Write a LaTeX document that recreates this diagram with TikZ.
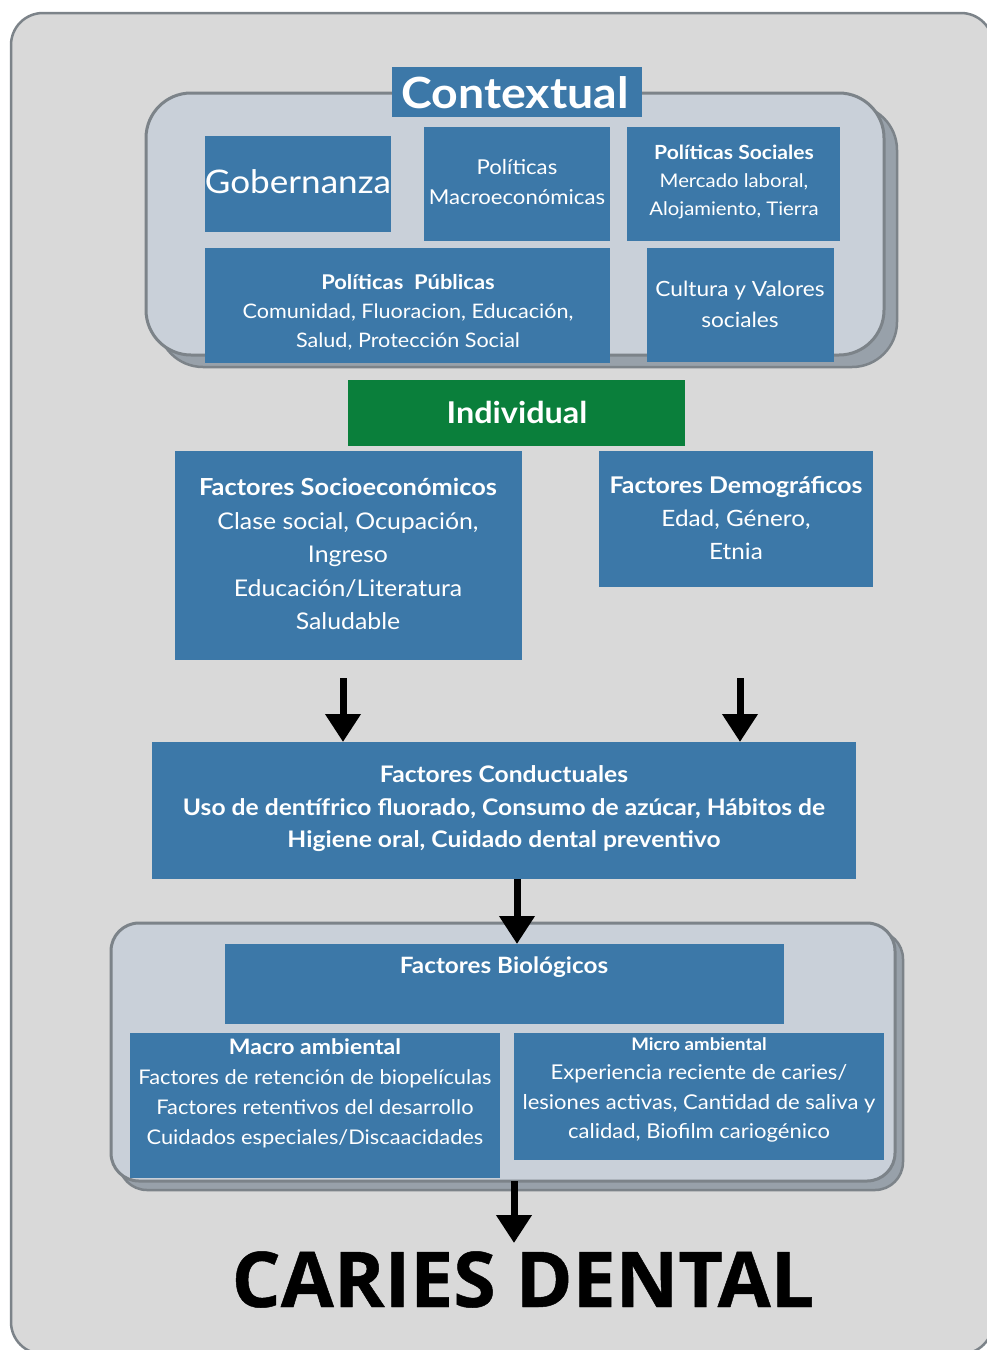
\documentclass[tikz,border=0pt]{standalone}
\usepackage{fontspec}
\setmainfont{Lato}[FakeStretch=1.08]
\newfontfamily\cariesfont{Open Sans}[FakeBold=0.6]
\usetikzlibrary{arrows.meta}
\definecolor{bg}{HTML}{D9D9D9}
\definecolor{framec}{HTML}{7C8389}
\definecolor{cont}{HTML}{C9D0D9}
\definecolor{shad}{HTML}{98A1AA}
\definecolor{blu}{HTML}{3C78A8}
\definecolor{grn}{HTML}{0A7F3B}
\begin{document}
\begin{tikzpicture}[x=1pt,y=-1pt,
  blubox/.style={fill=blu, draw=none, inner sep=0pt, outer sep=0pt, anchor=north west},
  grnbox/.style={fill=grn, draw=none, inner sep=0pt, outer sep=0pt, anchor=north west},
  txt/.style={text=white, align=center, inner sep=0pt},
  grp/.style={fill=cont, draw=framec, line width=3pt, inner sep=0pt, outer sep=0pt, anchor=north west},
  grpshadow/.style={fill=shad, draw=framec, line width=2.5pt, inner sep=0pt, outer sep=0pt, anchor=north west},
  bigarrow/.style={line width=7pt, -{Triangle[width=34pt,length=28pt]}},
]
\useasboundingbox (0,0) rectangle (987,1350);
\fill[white] (0,0) rectangle (987,1350);
\begin{scope}
\clip (0,0) rectangle (987,1350);
\draw[fill=bg, draw=framec, line width=2.5pt, rounded corners=32pt] (11,13) rectangle (993,1354);
\end{scope}

% Contextual group
\node[grpshadow, rounded corners=45pt, minimum width=739, minimum height=262] (ctxs) at (158,105) {};
\node[grp, rounded corners=45pt, minimum width=738, minimum height=262] (ctx) at (146,93) {};

\node[blubox, minimum width=250, minimum height=50] (title) at (392,67) {};
\node[txt, font=\fontsize{43}{48}\selectfont\bfseries] at (515,93) {Contextual};

\node[blubox, minimum width=186, minimum height=96] (gob) at (205,136) {};
\node[txt, font=\fontsize{32.5}{38}\selectfont] at (298,182) {Gobernanza};

\node[blubox, minimum width=186, minimum height=114] (macro) at (424,127) {};
\node[txt, font=\fontsize{20.5}{30}\selectfont] at (517,182) {Políticas\\Macroeconómicas};

\node[blubox, minimum width=213, minimum height=114] (soc) at (627,127) {};
\node[txt, font=\fontsize{18.8}{28}\selectfont] at (734,182) {{\fontsize{19.5}{28}\selectfont\bfseries Políticas Sociales}\\Mercado laboral,\\Alojamiento, Tierra};

\node[blubox, minimum width=405, minimum height=115] (pub) at (205,248) {};
\node[txt, font=\fontsize{20}{29}\selectfont] at (408,312) {{\fontsize{20.3}{29}\selectfont\bfseries Políticas\ \ Públicas}\\Comunidad, Fluoracion, Educación,\\Salud, Protección Social};

\node[blubox, minimum width=187, minimum height=114] (cult) at (647,248) {};
\node[txt, font=\fontsize{21}{31}\selectfont] at (740,304) {Cultura y Valores\\sociales};

% Individual
\node[grnbox, minimum width=337, minimum height=66] (indiv) at (348,380) {};
\node[txt, font=\fontsize{30}{32}\selectfont\bfseries] at (517,412) {Individual};

\node[blubox, minimum width=347, minimum height=209] (socio) at (175,451) {};
\node[txt, font=\fontsize{23}{33.5}\selectfont] at (348,554) {{\fontsize{23.5}{33.5}\selectfont\bfseries Factores Socioeconómicos}\\Clase social, Ocupación,\\Ingreso\\Educación/Literatura\\Saludable};

\node[blubox, minimum width=274, minimum height=136] (demo) at (599,451) {};
\node[txt, font=\fontsize{22.5}{33}\selectfont] at (736,518) {{\fontsize{23}{33}\selectfont\bfseries Factores Demográficos}\\Edad, Género,\\Etnia};

\node[blubox, minimum width=704, minimum height=137] (cond) at (152,742) {};
\node[txt, font=\fontsize{22.8}{32.5}\selectfont\bfseries] at (504,809) {Factores Conductuales\\Uso de dentífrico fluorado, Consumo de azúcar, Hábitos de\\Higiene oral, Cuidado dental preventivo};

% Biological group
\node[grpshadow, rounded corners=28pt, minimum width=784, minimum height=259] (bgrps) at (119,931) {};
\node[grp, rounded corners=28pt, minimum width=784, minimum height=258] (bgrp) at (111,923) {};

\node[blubox, minimum width=559, minimum height=80] (bio) at (225,944) {};
\node[txt, font=\fontsize{22.5}{30}\selectfont\bfseries] at (504,967) {Factores Biológicos};

\node[blubox, minimum width=370, minimum height=145] (mac) at (130,1033) {};
\node[txt, font=\fontsize{20.2}{30}\selectfont] at (315,1093) {{\fontsize{21.3}{30}\selectfont\bfseries Macro ambiental}\\Factores de retención de biopelículas\\Factores retentivos del desarrollo\\Cuidados especiales/Discaacidades};

\node[blubox, minimum width=370, minimum height=127] (mic) at (514,1033) {};
\node[txt, font=\fontsize{20.4}{29.5}\selectfont] at (699,1090) {{\fontsize{17.3}{20}\selectfont\bfseries Micro ambiental}\\Experiencia reciente de caries/\\lesiones activas, Cantidad de saliva y\\calidad, Biofilm cariogénico};

% Result
\node[inner sep=0pt, anchor=base, font=\fontsize{77}{80}\selectfont\cariesfont\bfseries] (caries) at (523,1307) {CARIES DENTAL};

% Arrows
\draw[bigarrow, shorten <=18pt] ([xshift=-5.5pt]socio.south) -- ([xshift=-5.5pt]socio.south |- cond.north);
\draw[bigarrow, shorten <=91pt] ([xshift=4pt]demo.south) -- ([xshift=4pt]demo.south |- cond.north);
\draw[bigarrow] ([xshift=13pt]cond.south) -- ([xshift=13pt]cond.south |- bio.north);
\draw[bigarrow, shorten >=8pt] ([xshift=11pt]bgrp.south) -- ([xshift=11pt]bgrp.south |- caries.north);
\end{tikzpicture}
\end{document}
